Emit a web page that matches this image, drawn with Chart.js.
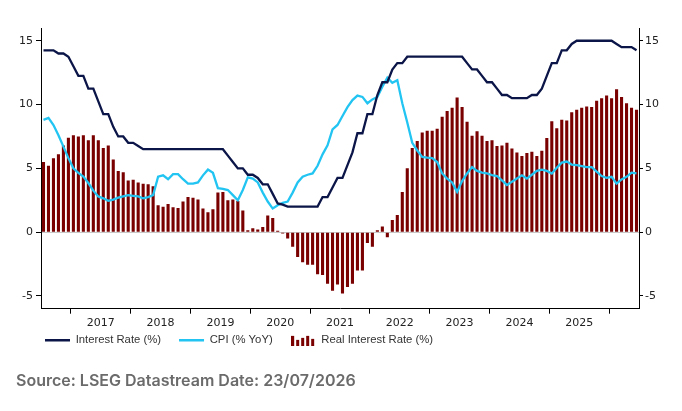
<!DOCTYPE html>
<html>
<head>
<meta charset="utf-8">
<script src="https://cdn.jsdelivr.net/npm/chart.js@4.4.1/dist/chart.umd.min.js"></script>
<style>
  html, body { margin: 0; padding: 0; background: #fff; }
  #wrap { position: relative; width: 682px; height: 411px; }
  #rateChart { position: absolute; left: 0; top: 0; }
  #source {
    position: absolute; left: 16px; top: 370px;
    font-family: Inter, "Open Sans", sans-serif; font-weight: 600;
    font-size: 16px; color: #6b6b6b;
  }
</style>
</head>
<body>
<div id="wrap">
  <canvas id="rateChart" width="682" height="372"></canvas>
  <div id="source">Source: LSEG Datastream Date: 23/07/2026</div>
</div>
<script>
// meses de jul/2016 a jun/2026
const startYear = 2016;
const startMonth = 7;
const monthCount = 120;

const yearTicks = ['2017', '2018', '2019', '2020', '2021', '2022', '2023', '2024', '2025'];
const yTicks = [-5, 0, 5, 10, 15];

// Selic (%)
const interestRate = [
  14.25, 14.25, 14.25, 14.0, 14.0, 13.75, 13.0, 12.25, 12.25, 11.25, 11.25, 10.25,
  9.25, 9.25, 8.25, 7.5, 7.5, 7.0, 7.0, 6.75, 6.5, 6.5, 6.5, 6.5,
  6.5, 6.5, 6.5, 6.5, 6.5, 6.5, 6.5, 6.5, 6.5, 6.5, 6.5, 6.5,
  6.5, 6.0, 5.5, 5.0, 5.0, 4.5, 4.5, 4.25, 3.75, 3.75, 3.0, 2.25,
  2.15, 2.0, 2.0, 2.0, 2.0, 2.0, 2.0, 2.0, 2.75, 2.75, 3.5, 4.25,
  4.25, 5.25, 6.25, 7.75, 7.75, 9.25, 9.25, 10.75, 11.75, 11.75, 12.75, 13.25,
  13.25, 13.75, 13.75, 13.75, 13.75, 13.75, 13.75, 13.75, 13.75, 13.75, 13.75, 13.75,
  13.75, 13.25, 12.75, 12.75, 12.25, 11.75, 11.75, 11.25, 10.75, 10.75, 10.5, 10.5,
  10.5, 10.5, 10.75, 10.75, 11.25, 12.25, 13.25, 13.25, 14.25, 14.25, 14.75, 15.0,
  15.0, 15.0, 15.0, 15.0, 15.0, 15.0, 15.0, 14.75, 14.5, 14.5, 14.5, 14.25
];

// IPCA (% a/a)
const cpi = [
  8.8, 8.95, 8.4, 7.6, 6.7, 5.8, 5.0, 4.65, 4.35, 3.85, 3.25, 2.8,
  2.65, 2.45, 2.55, 2.7, 2.8, 2.9, 2.85, 2.8, 2.65, 2.75, 2.9, 4.35,
  4.45, 4.15, 4.55, 4.55, 4.15, 3.8, 3.8, 3.9, 4.45, 4.9, 4.65, 3.45,
  3.4, 3.3, 2.9, 2.5, 3.3, 4.3, 4.2, 3.9, 3.1, 2.4, 1.85, 2.1,
  2.3, 2.4, 3.1, 3.9, 4.35, 4.5, 4.6, 5.2, 6.1, 6.8, 8.05, 8.4,
  9.1, 9.8, 10.35, 10.7, 10.6, 10.1, 10.4, 10.6, 11.4, 12.1, 11.7, 11.9,
  10.1, 8.6, 7.0, 6.4, 5.9, 5.84, 5.8, 5.5, 4.6, 4.2, 3.9, 3.16,
  4.0, 4.6, 5.1, 4.8, 4.66, 4.6, 4.47, 4.4, 4.05, 3.7, 3.95, 4.2,
  4.45, 4.2, 4.5, 4.8, 4.9, 4.8, 4.6, 5.05, 5.45, 5.53, 5.3, 5.26,
  5.18, 5.1, 5.1, 4.74, 4.4, 4.26, 4.34, 3.8, 4.13, 4.34, 4.66, 4.6
];

// juro real (%)
const realRate = [
  5.5, 5.2, 5.8, 6.1, 6.8, 7.4, 7.6, 7.5, 7.6, 7.2, 7.6, 7.2,
  6.6, 6.8, 5.7, 4.8, 4.7, 4.05, 4.1, 3.9, 3.8, 3.75, 3.6, 2.1,
  2.0, 2.2, 1.95, 1.9, 2.4, 2.75, 2.7, 2.55, 1.85, 1.55, 1.8, 3.1,
  3.15, 2.5, 2.55, 2.45, 1.7, 0.15, 0.3, 0.2, 0.4, 1.3, 1.1, 0.1,
  -0.1, -0.5, -1.15, -1.95, -2.35, -2.55, -2.55, -3.3, -3.35, -4.05, -4.6, -4.1,
  -4.8, -4.3, -4.05, -3.0, -3.0, -0.85, -1.15, 0.15, 0.45, -0.4, 0.95, 1.35,
  3.15, 5.0, 6.6, 7.15, 7.8, 7.95, 7.95, 8.1, 9.05, 9.5, 9.75, 10.55,
  9.8, 8.65, 7.55, 7.9, 7.55, 7.15, 7.2, 6.75, 6.8, 7.0, 6.55, 6.25,
  5.97, 6.2, 6.3, 5.97, 6.37, 7.37, 8.7, 8.15, 8.8, 8.75, 9.4, 9.6,
  9.75, 9.85, 9.8, 10.3, 10.5, 10.7, 10.5, 11.2, 10.6, 10.1, 9.75, 9.6
];

const navy = '#0b1547';
const cyan = '#22c4f2';
const maroon = '#7a0000';

const months = [];
for (let i = 0; i < monthCount; i++) {
  const m = (startMonth - 1 + i) % 12 + 1;
  const y = startYear + Math.floor((startMonth - 1 + i) / 12);
  months.push(y + '-' + String(m).padStart(2, '0'));
}

// icone de barras da legenda
const barIcon = document.createElement('canvas');
barIcon.width = 24;
barIcon.height = 11;
const ictx = barIcon.getContext('2d');
ictx.fillStyle = maroon;
[10, 6, 8, 10, 7].forEach((h, k) => ictx.fillRect(k * 5, 11 - h, 3, h));

// legenda encostada na esquerda e subindo um pouco
const moveLegend = {
  id: 'moveLegend',
  afterLayout(chart) {
    const lg = chart.legend;
    lg.left = 27;
    lg.top -= 16;
    lg.bottom -= 16;
  }
};

const tickFont = { family: '"DejaVu Sans", Verdana, sans-serif', size: 11 };

const ctx = document.getElementById('rateChart').getContext('2d');
new Chart(ctx, {
  data: {
    labels: months,
    datasets: [
      {
        type: 'line', label: 'Interest Rate (%)', data: interestRate,
        borderColor: navy, borderWidth: 2.3, pointRadius: 0, tension: 0,
        yAxisID: 'y', order: 0
      },
      {
        type: 'line', label: 'CPI (% YoY)', data: cpi,
        borderColor: cyan, borderWidth: 2.3, pointRadius: 0, tension: 0,
        yAxisID: 'y', order: 1
      },
      {
        type: 'bar', label: 'Real Interest Rate (%)', data: realRate,
        backgroundColor: maroon, borderWidth: 0,
        categoryPercentage: 1, barPercentage: 0.62,
        yAxisID: 'y', order: 2
      }
    ]
  },
  plugins: [moveLegend],
  options: {
    responsive: false,
    animation: false,
    layout: { padding: { top: 28, left: 0, right: 0, bottom: 0 } },
    plugins: {
      tooltip: { enabled: false },
      legend: {
        position: 'bottom',
        align: 'start',
        labels: {
          usePointStyle: true,
          pointStyleWidth: 25,
          padding: 18,
          color: '#333',
          font: { family: '"Liberation Sans", Arial, sans-serif', size: 11.3 },
          generateLabels: chart => chart.data.datasets.map((ds, i) => ({
            text: ds.label,
            datasetIndex: i,
            hidden: false,
            fontColor: '#333',
            pointStyle: ds.type === 'bar' ? barIcon : 'line',
            strokeStyle: ds.type === 'bar' ? maroon : ds.borderColor,
            fillStyle: ds.type === 'bar' ? maroon : ds.borderColor,
            lineWidth: ds.type === 'bar' ? 0 : 2.5
          }))
        }
      }
    },
    scales: {
      x: {
        type: 'category',
        offset: true,
        afterFit: s => { s.height = 24; },
        border: { display: true, color: '#000', width: 1 },
        grid: {
          offset: true,
          drawOnChartArea: false,
          tickLength: 5,
          color: c => ((c.index - 6) % 12 === 0 && c.index >= 6) ? '#000' : 'rgba(0,0,0,0)'
        },
        ticks: {
          autoSkip: false, maxRotation: 0, minRotation: 0,
          labelOffset: -2.5, padding: 3, color: '#222', font: tickFont,
          callback: (v, i) => (i > 0 && i % 12 === 0) ? (yearTicks[i / 12 - 1] || '') : ''
        }
      },
      y: {
        position: 'left',
        min: -6, max: 16,
        afterFit: s => { s.width = 41; },
        afterBuildTicks: s => { s.ticks = yTicks.map(v => ({ value: v })); },
        border: { display: true, color: '#000', width: 1 },
        grid: {
          drawOnChartArea: true,
          tickLength: 5,
          tickColor: '#000',
          color: c => (c.tick && c.tick.value === 0) ? '#c8c8c8' : 'rgba(0,0,0,0)'
        },
        ticks: { padding: 3, color: '#222', font: tickFont }
      },
      y2: {
        position: 'right',
        min: -6, max: 16,
        afterFit: s => { s.width = 43; },
        afterBuildTicks: s => { s.ticks = yTicks.map(v => ({ value: v })); },
        border: { display: true, color: '#000', width: 1 },
        grid: { drawOnChartArea: false, tickLength: 4, tickColor: '#000' },
        ticks: { padding: 2, color: '#222', font: tickFont }
      }
    }
  }
});
</script>
</body>
</html>
